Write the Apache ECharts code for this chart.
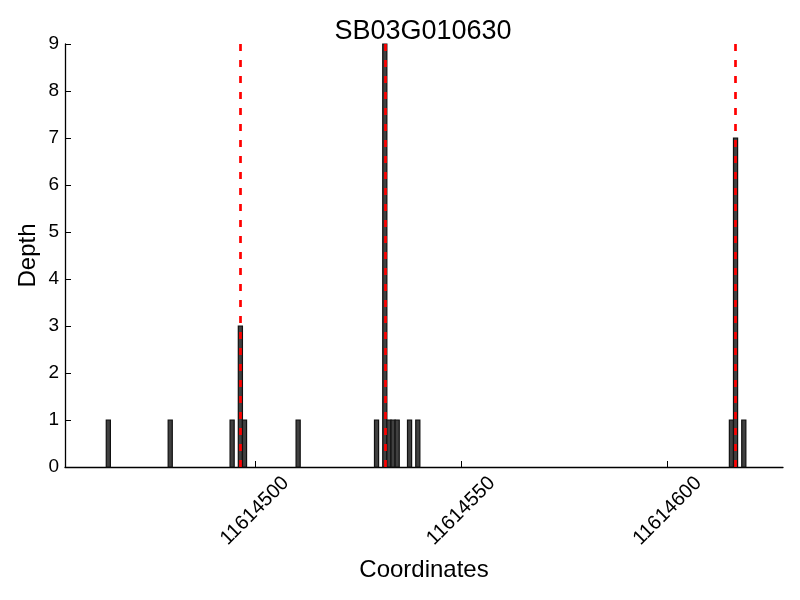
<!DOCTYPE html>
<html>
<head>
<meta charset="utf-8">
<script src="https://cdn.jsdelivr.net/npm/echarts@6/dist/echarts.min.js"></script>
<style>
  html, body { margin: 0; padding: 0; background: #fff; }
  #chart { width: 800px; height: 600px; }
</style>
</head>
<body>
<div id="chart"></div>
<script>
// read depth per coordinate (bar left edges)
const coords = [11614464, 11614479, 11614494, 11614496, 11614497, 11614510,
  11614529, 11614531, 11614532, 11614533, 11614534, 11614537, 11614539,
  11614615, 11614616, 11614618]
const depths = [1, 1, 1, 3, 1, 1, 1, 9, 1, 1, 1, 1, 1, 1, 7, 1]
// red dashed markers
const peaks = [11614496, 11614531, 11614616]
const xTicks = [11614500, 11614550, 11614600]
const xMin = 11614454
const xMax = 11614628

const font = 'Liberation Sans, Arial, sans-serif'

const chart = echarts.init(document.getElementById('chart'))

const renderBar = (params, api) => {
  const x = api.value(0)
  const h = api.value(1)
  const p0 = api.coord([x, 0])
  const p1 = api.coord([x + 1, h])
  return {
    type: 'rect',
    shape: { x: p0[0], y: p1[1], width: p1[0] - p0[0], height: p0[1] - p1[1] },
    style: { fill: '#404040', stroke: '#111111', lineWidth: 1.2 }
  }
}

chart.setOption({
  animation: false,
  title: {
    text: 'SB03G010630',
    left: 418,
    textAlign: 'center',
    top: 13,
    textStyle: { fontFamily: font, fontSize: 27, fontWeight: 'normal', color: '#000' }
  },
  grid: { left: 65, right: 17, top: 44, bottom: 133, containLabel: false, outerBoundsMode: 'none' },
  xAxis: {
    type: 'value',
    min: xMin,
    max: xMax,
    name: 'Coordinates',
    nameLocation: 'middle',
    nameGap: 91,
    nameMoveOverlap: false,
    nameTextStyle: { fontFamily: font, fontSize: 24, color: '#000' },
    axisLine: { lineStyle: { color: '#000', width: 1.3 } },
    axisTick: { show: true, inside: true, length: 6, customValues: xTicks, lineStyle: { color: '#000' } },
    axisLabel: {
      customValues: xTicks,
      formatter: v => String(v),
      rotate: 45,
      align: 'center',
      verticalAlign: 'middle',
      margin: 44,
      fontFamily: font,
      fontSize: 20,
      color: '#000'
    },
    splitLine: { show: false }
  },
  yAxis: {
    type: 'value',
    min: 0,
    max: 9,
    interval: 1,
    name: 'Depth',
    nameLocation: 'middle',
    nameGap: 25,
    nameMoveOverlap: false,
    nameRotate: 90,
    nameTextStyle: { fontFamily: font, fontSize: 24, color: '#000' },
    axisLine: { show: true, lineStyle: { color: '#000', width: 1.3 } },
    axisTick: { show: true, inside: true, length: 6, lineStyle: { color: '#000' } },
    axisLabel: { margin: 6, fontFamily: font, fontSize: 19, color: '#000' },
    splitLine: { show: false }
  },
  series: [{
    type: 'custom',
    renderItem: renderBar,
    data: coords.map((c, i) => [c, depths[i]]),
    markLine: {
      silent: true,
      symbol: ['none', 'none'],
      label: { show: false },
      lineStyle: { color: '#ff0000', width: 2.7, type: [7, 9] },
      data: peaks.map(p => ({ xAxis: p + 0.5 }))
    }
  }]
})
</script>
</body>
</html>
